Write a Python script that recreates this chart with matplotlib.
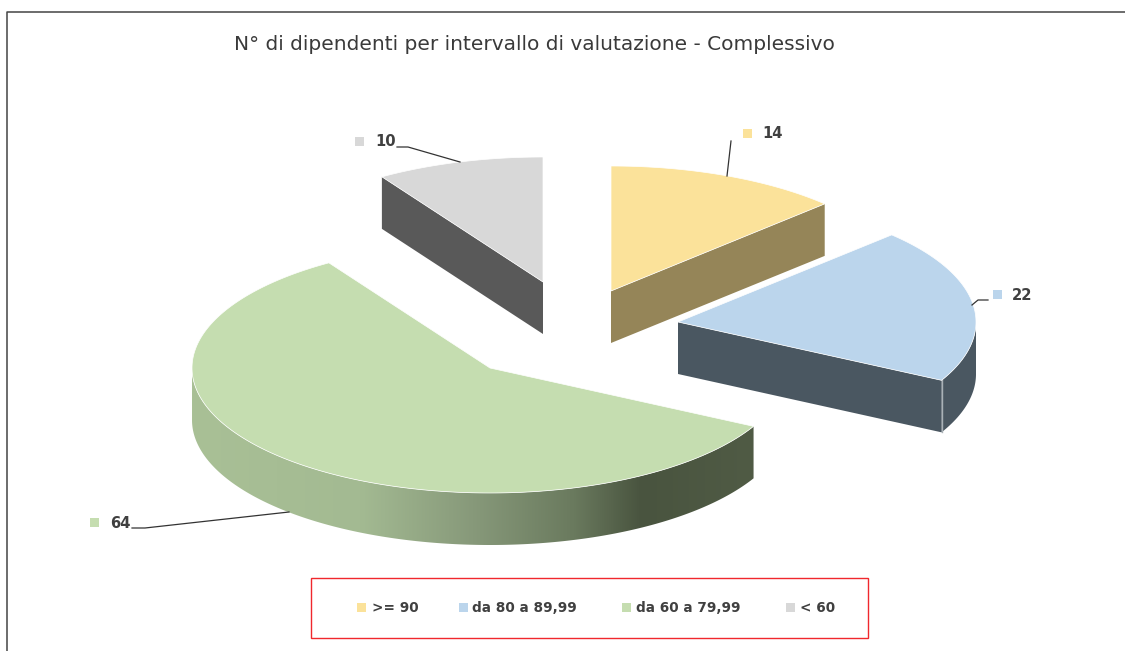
import numpy as np
from matplotlib import pyplot as plt
from matplotlib.colors import LinearSegmentedColormap
from matplotlib.patches import Polygon, Rectangle

title = "N° di dipendenti per intervallo di valutazione - Complessivo"
categories = [">= 90", "da 80 a 89,99", "da 60 a 79,99", "< 60"]
values = [14, 22, 64, 10]
top_colors = ["#FBE29A", "#BBD5EC", "#C5DDB0", "#D8D8D8"]
cut_colors = ["#958558", "#4A5761", None, "#595959"]

# apex of each exploded slice, in pixels
apex_x = [611, 678, 490, 543]
apex_y = [291, 322, 368, 282]

RX, RY, DEPTH = 298, 125, 52
WIDTH, HEIGHT = 1125, 651


def ellipse_points(cx, cy, a0, a1, n=200):
    # angles are clockwise from north, in degrees
    t = np.radians(np.linspace(a0, a1, n))
    return np.column_stack([cx + RX * np.sin(t), cy - RY * np.cos(t)])


def rim_polygon(cx, cy, a0, a1):
    upper = ellipse_points(cx, cy, a0, a1)
    lower = upper[::-1] + [0, DEPTH]
    return np.vstack([upper, lower])


fig = plt.figure(figsize=(WIDTH / 100, HEIGHT / 100), dpi=100)
ax = fig.add_axes([0, 0, 1, 1])
ax.set_xlim(0, WIDTH)
ax.set_ylim(HEIGHT, 0)
ax.axis("off")

# outer frame, only top and left are inside the crop
ax.plot([7, 7, WIDTH], [HEIGHT, 12, 12], color="#444444", lw=1.1)

ax.text(534, 45, title, ha="center", va="center", fontsize=14.5, color="#3A3A3A",
        family="DejaVu Sans")

edges = np.cumsum([0] + values) / sum(values) * 360
green_cmap = LinearSegmentedColormap.from_list(
    "rim",
    [(0.0, "#A9C096"), (0.3, "#A3BA92"), (0.5, "#87997A"), (0.68, "#6A7A5E"),
     (0.8, "#49543F"), (1.0, "#505B45")],
)

for i in [3, 0, 2, 1]:
    cx, cy = apex_x[i], apex_y[i]
    a0, a1 = edges[i], edges[i + 1]
    outline = ellipse_points(cx, cy, a0, a1)

    # straight cut face seen from the front
    if i == 0:
        end = outline[-1]
        ax.add_patch(Polygon([(cx, cy), end, end + [0, DEPTH], (cx, cy + DEPTH)],
                             fc=cut_colors[i], ec="none"))
    elif i == 3:
        start = outline[0]
        ax.add_patch(Polygon([(cx, cy), start, start + [0, DEPTH], (cx, cy + DEPTH)],
                             fc=cut_colors[i], ec="none"))
    elif i == 1:
        end = outline[-1]
        ax.add_patch(Polygon([(cx, cy), end, end + [0, DEPTH], (cx, cy + DEPTH)],
                             fc=cut_colors[i], ec="none"))
        rim = Polygon(rim_polygon(cx, cy, 90, a1), fc=cut_colors[i], ec="none")
        ax.add_patch(rim)
        ax.plot([end[0], end[0]], [end[1], end[1] + DEPTH], color="#A9B1B6", lw=1)
    else:
        rim = Polygon(rim_polygon(cx, cy, a0, 270), fc="none", ec="none")
        ax.add_patch(rim)
        grad = ax.imshow(np.linspace(0, 1, 256)[None, :], cmap=green_cmap,
                         extent=[cx - RX, outline[0][0], HEIGHT, 0], aspect="auto", zorder=1)
        grad.set_clip_path(rim)

    top = np.vstack([[cx, cy], outline])
    ax.add_patch(Polygon(top, fc=top_colors[i], ec="white", lw=0.5, zorder=2))

ax.set_xlim(0, WIDTH)
ax.set_ylim(HEIGHT, 0)

# data labels with small colour key and leader
label_x = [762, 1012, 110, 375]
label_y = [134, 295, 523, 142]
key_x = [748, 998, 95, 360]
leaders = [
    ([731, 727], [141, 176]),
    ([988, 978, 972], [300, 300, 305]),
    ([132, 145, 289], [528, 528, 512]),
    ([397, 408, 460], [147, 147, 162]),
]
for i in range(len(values)):
    ax.add_patch(Rectangle((key_x[i] - 5, label_y[i] - 5), 9, 9, fc=top_colors[i], ec="none", zorder=3))
    ax.text(label_x[i], label_y[i], str(values[i]), ha="left", va="center",
            fontsize=10.6, fontweight="bold", color="#404040", zorder=3)
    ax.plot(leaders[i][0], leaders[i][1], color="#333333", lw=0.9, zorder=3)

# legend
ax.add_patch(Rectangle((311, 578), 557, 60, fc="none", ec="#F0282D", lw=1, zorder=3))
legend_key_x = [361, 463, 626, 790]
legend_text_x = [372, 472, 636, 800]
for i, name in enumerate(categories):
    ax.add_patch(Rectangle((legend_key_x[i] - 4, 603), 9, 9, fc=top_colors[i], ec="none", zorder=3))
    ax.text(legend_text_x[i], 608, name, ha="left", va="center",
            fontsize=9.8, fontweight="bold", color="#404040", zorder=3)

fig.savefig("out.png", dpi=100)
